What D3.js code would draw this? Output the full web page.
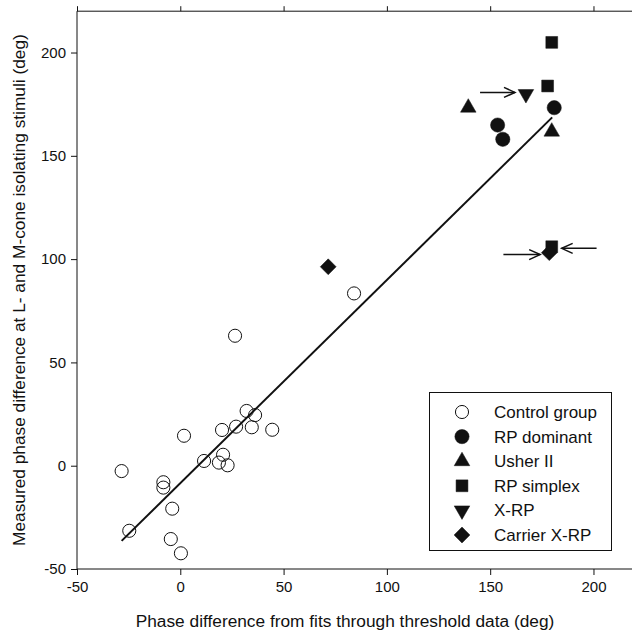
<!DOCTYPE html>
<html><head><meta charset="utf-8">
<script src="https://cdn.jsdelivr.net/npm/d3@7"></script>
<style>body{margin:0;background:#fff}svg{display:block}</style>
</head><body>
<svg id="c" width="632" height="637"></svg>
<script>
// ---- data (deg) ----
const xTicks = [-50, 0, 50, 100, 150, 200];
const yTicks = [-50, 0, 50, 100, 150, 200];
const groups = ["Control group", "RP dominant", "Usher II", "RP simplex", "X-RP", "Carrier X-RP"];
const controlX = [26.5, -28.4, -24.7, -8.2, -8.2, -3.9, -4.6, 0.3, 1.8, 11.5, 20.2, 20.7, 18.7, 22.9, 27.0, 32.1, 36.2, 34.6, 44.5, 84.1];
const controlY = [62.9, -2.6, -31.5, -8.0, -10.6, -20.8, -35.5, -42.4, 14.5, 2.3, 17.3, 5.3, 1.5, 0.2, 18.9, 26.5, 24.5, 18.6, 17.4, 83.4];
const rpDominantX = [153.6, 156.1, 181.0];
const rpDominantY = [164.9, 158.0, 173.3];
const usherX = [139.4, 179.8];
const usherY = [173.3, 161.7];
const rpSimplexX = [179.8, 177.8, 179.8];
const rpSimplexY = [204.9, 183.8, 106.0];
const xrpX = [167.3];
const xrpY = [179.9];
const carrierX = [71.6, 178.6];
const carrierY = [96.3, 103.1];
const fitX = [-28.4, 180.0];
const fitY = [-36.4, 168.6];
// arrows: x from, x to, y
const arrowFromX = [145.1, 156.4, 201.5];
const arrowToX = [162.0, 174.2, 184.6];
const arrowY = [180.7, 102.2, 105.2];

const svg = d3.select("#c");
const x = d3.scaleLinear().domain([-50, 220]).range([77, 634.8]);
const y = d3.scaleLinear().domain([-50, 220]).range([569, 11.2]);
const font = "'Liberation Sans', Arial, sans-serif";
const ink = "#111";

// frame: left, bottom, top (right edge lies outside the picture)
svg.append("path")
  .attr("d", `M632,${y(220)}H${x(-50)}V${y(-50)}H632`)
  .attr("fill", "none").attr("stroke", ink).attr("stroke-width", 1);

const ax = svg.append("g").attr("transform", `translate(0,${y(-50)})`)
  .call(d3.axisBottom(x).tickValues(xTicks).tickSize(6).tickPadding(6).tickFormat(d => String(d)));
const axT = svg.append("g").attr("transform", `translate(0,${y(220)})`)
  .call(d3.axisTop(x).tickValues(xTicks).tickSize(5).tickFormat(""));
const ay = svg.append("g").attr("transform", `translate(${x(-50)},0)`)
  .call(d3.axisLeft(y).tickValues(yTicks).tickSize(6).tickPadding(5).tickFormat(d => String(d)));
[ax, axT, ay].forEach(g => {
  g.select(".domain").remove();
  g.selectAll("line").attr("stroke", ink);
  g.selectAll("text").attr("font-family", font).attr("font-size", 15).attr("fill", ink);
});

// axis titles
svg.append("text").attr("x", 345).attr("y", 627)
  .attr("text-anchor", "middle").attr("font-family", font).attr("font-size", 17.3).attr("fill", ink)
  .text("Phase difference from fits through threshold data (deg)");
svg.append("text").attr("transform", `translate(25,${(y(-50) + y(220)) / 2}) rotate(-90)`)
  .attr("text-anchor", "middle").attr("font-family", font).attr("font-size", 17.3).attr("fill", ink)
  .text("Measured phase difference at L- and M-cone isolating stimuli (deg)");

// fit line
svg.append("line").attr("x1", x(fitX[0])).attr("y1", y(fitY[0]))
  .attr("x2", x(fitX[1])).attr("y2", y(fitY[1]))
  .attr("stroke", ink).attr("stroke-width", 2);

// symbols
const specs = [
  {xs: controlX, ys: controlY, type: d3.symbolCircle, size: 135, rot: 0, open: true},
  {xs: rpDominantX, ys: rpDominantY, type: d3.symbolCircle, size: 160, rot: 0},
  {xs: usherX, ys: usherY, type: d3.symbolTriangle, size: 105, rot: 0},
  {xs: rpSimplexX, ys: rpSimplexY, type: d3.symbolSquare, size: 140, rot: 0},
  {xs: xrpX, ys: xrpY, type: d3.symbolTriangle, size: 105, rot: 180},
  {xs: carrierX, ys: carrierY, type: d3.symbolSquare, size: 125, rot: 45}
];
function drawSym(g, s, cx, cy) {
  g.append("path").attr("d", d3.symbol().type(s.type).size(s.size)())
    .attr("transform", `translate(${cx},${cy}) rotate(${s.rot})`)
    .attr("fill", s.open ? "none" : ink)
    .attr("stroke", ink).attr("stroke-width", s.open ? 1 : 0.5);
}
const marks = svg.append("g");
specs.forEach(s => s.xs.forEach((v, i) => drawSym(marks, s, x(v), y(s.ys[i]))));

// arrows
const ar = svg.append("g").attr("stroke", ink).attr("stroke-width", 1.5).attr("fill", "none");
arrowFromX.forEach((fx, i) => {
  const x1 = x(fx), x2 = x(arrowToX[i]), yy = y(arrowY[i]);
  const dir = Math.sign(x2 - x1);
  ar.append("line").attr("x1", x1).attr("y1", yy).attr("x2", x2).attr("y2", yy);
  ar.append("path").attr("d", `M${x2 - dir * 11},${yy - 5}L${x2},${yy}L${x2 - dir * 11},${yy + 5}`);
});

// legend
const lg = svg.append("g");
lg.append("rect").attr("x", 429.5).attr("y", 392.5).attr("width", 182).attr("height", 158)
  .attr("fill", "#fff").attr("stroke", ink).attr("stroke-width", 1);
groups.forEach((name, i) => {
  const ly = 412 + i * 24.6;
  drawSym(lg, specs[i], 462, ly);
  lg.append("text").attr("x", 494).attr("y", ly).attr("dy", "0.35em")
    .attr("font-family", font).attr("font-size", 17).attr("fill", ink).text(name);
});
</script>
</body></html>
